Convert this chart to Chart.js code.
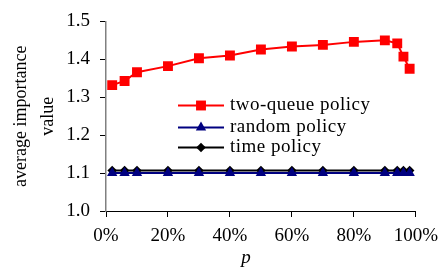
<!DOCTYPE html>
<html>
<head>
<meta charset="utf-8">
<script src="https://cdn.jsdelivr.net/npm/chart.js@4/dist/chart.umd.min.js"></script>
<style>
html,body{margin:0;padding:0;background:#fff;}
#wrap{width:446px;height:268px;}
</style>
</head>
<body>
<div id="wrap"><canvas id="c" width="446" height="268"></canvas></div>
<script>
const pValues = [2, 6, 10, 20, 30, 40, 50, 60, 70, 80, 90, 94, 96, 98];
const twoQueue = [1.332, 1.343, 1.366, 1.382, 1.403, 1.410, 1.426, 1.434, 1.438, 1.446, 1.450, 1.442, 1.407, 1.375];
const randomPolicy = [1.100, 1.100, 1.100, 1.100, 1.100, 1.100, 1.100, 1.100, 1.100, 1.100, 1.100, 1.100, 1.100, 1.100];
const timePolicy = [1.107, 1.107, 1.107, 1.107, 1.107, 1.107, 1.107, 1.107, 1.107, 1.107, 1.107, 1.107, 1.107, 1.107];
const seriesLabels = ['two-queue policy', 'random policy', 'time policy'];
const yTitle = ['average importance', 'value'];
const xTitle = 'p';

const SERIF = '"Liberation Serif", "Times New Roman", serif';
const toXY = (vals) => vals.map((v, i) => ({x: pValues[i], y: v}));

const styles = [
  {color: '#FF0000', pointStyle: 'rect', radius: 7},
  {color: '#000080', pointStyle: 'triangle', radius: 6},
  {color: '#000000', pointStyle: 'rectRot', radius: 4.8}
];
const seriesData = [twoQueue, randomPolicy, timePolicy];

const datasets = seriesData.map((d, i) => ({
  label: seriesLabels[i],
  data: toXY(d),
  borderColor: styles[i].color,
  backgroundColor: styles[i].color,
  borderWidth: 2,
  pointStyle: styles[i].pointStyle,
  pointRadius: styles[i].radius,
  pointBorderWidth: 0,
  pointBackgroundColor: styles[i].color,
  pointBorderColor: styles[i].color,
  tension: 0,
  fill: false
}));

function drawMarker(ctx, style, r, x, y, color) {
  ctx.save();
  ctx.fillStyle = color;
  ctx.beginPath();
  if (style === 'rect') {
    const s = Math.SQRT1_2 * r;
    ctx.rect(x - s, y - s, 2 * s, 2 * s);
  } else if (style === 'triangle') {
    ctx.moveTo(x, y - r);
    ctx.lineTo(x + Math.sin(Math.PI * 2 / 3) * r, y + 0.5 * r);
    ctx.lineTo(x - Math.sin(Math.PI * 2 / 3) * r, y + 0.5 * r);
    ctx.closePath();
  } else {
    ctx.moveTo(x, y - r);
    ctx.lineTo(x + r, y);
    ctx.lineTo(x, y + r);
    ctx.lineTo(x - r, y);
    ctx.closePath();
  }
  ctx.fill();
  ctx.restore();
}

const extraText = {
  id: 'extraText',
  afterDraw(chart) {
    const ctx = chart.ctx;
    ctx.save();
    // legend
    const rows = [105.5, 127.5, 147.5];
    const lx0 = 178, lx1 = 224, tx = 230;
    ctx.font = '19px ' + SERIF;
    ctx.textBaseline = 'middle';
    ctx.textAlign = 'left';
    try { ctx.letterSpacing = '0.5px'; } catch (e) {}
    chart.data.datasets.forEach((ds, i) => {
      const y = rows[i];
      ctx.strokeStyle = ds.borderColor;
      ctx.lineWidth = 2;
      ctx.beginPath();
      ctx.moveTo(lx0, y);
      ctx.lineTo(lx1, y);
      ctx.stroke();
      drawMarker(ctx, ds.pointStyle, ds.pointRadius, (lx0 + lx1) / 2, y, ds.borderColor);
      ctx.fillStyle = '#000';
      ctx.fillText(ds.label, tx, y);
    });
    try { ctx.letterSpacing = '0px'; } catch (e) {}
    // x title
    ctx.font = 'italic 19px ' + SERIF;
    ctx.textAlign = 'center';
    ctx.textBaseline = 'alphabetic';
    ctx.fillStyle = '#000';
    ctx.fillText(xTitle, 246, 263);
    ctx.restore();
  }
};

new Chart(document.getElementById('c'), {
  type: 'line',
  data: {datasets},
  options: {
    responsive: false,
    animation: false,
    devicePixelRatio: 1,
    layout: {padding: {top: 16, right: 30, left: 0, bottom: 0}},
    plugins: {legend: {display: false}, tooltip: {enabled: false}},
    scales: {
      x: {
        type: 'linear',
        min: 0,
        max: 100,
        ticks: {
          stepSize: 20,
          callback: (v) => v + '%',
          font: {family: SERIF, size: 19},
          color: '#000',
          padding: 8
        },
        grid: {display: true, drawOnChartArea: false, tickLength: 6, tickColor: '#000', lineWidth: 1},
        border: {display: true, color: '#000', width: 1},
        afterFit: (s) => { s.height = 57; }
      },
      y: {
        min: 1.0,
        max: 1.5,
        ticks: {
          stepSize: 0.1,
          callback: (v) => Number(v).toFixed(1),
          font: {family: SERIF, size: 19},
          color: '#000',
          padding: 10
        },
        grid: {display: true, drawOnChartArea: false, tickLength: 6, tickColor: '#000', lineWidth: 1},
        border: {display: true, color: '#808080', width: 1.5},
        title: {
          display: true,
          text: yTitle,
          font: {family: SERIF, size: 18, lineHeight: 1.5},
          color: '#000',
          padding: {top: 8, bottom: 0}
        },
        afterFit: (s) => { s.width = 106; }
      }
    }
  },
  plugins: [extraText]
});
</script>
</body>
</html>
